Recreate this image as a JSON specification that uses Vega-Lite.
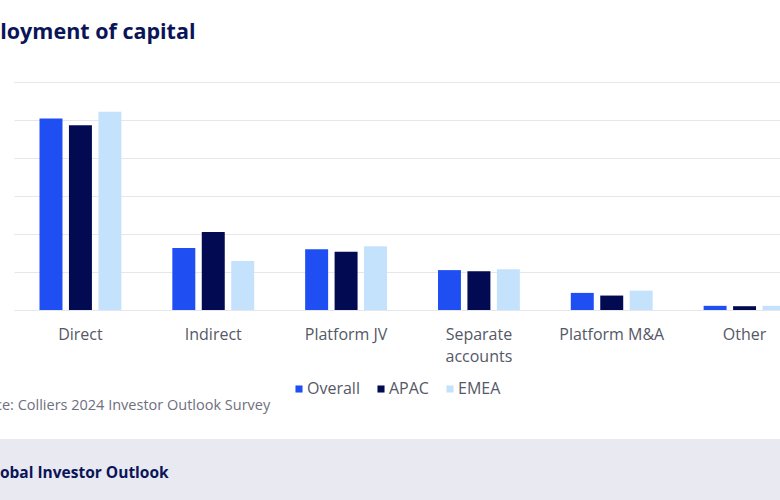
{
  "$schema": "https://vega.github.io/schema/vega-lite/v6.json",
  "width": 780,
  "height": 228,
  "autosize": {"type": "none"},
  "padding": {"left": 0, "right": 0, "top": 82, "bottom": 190},
  "background": "#ffffff",
  "config": {
    "view": {"stroke": null},
    "font": "Open Sans"
  },
  "title": {
    "text": "Global Investor Outlook",
    "orient": "bottom",
    "anchor": "start",
    "frame": "group",
    "dx": -16,
    "offset": -34,
    "fontSize": 15.5,
    "fontWeight": "bold",
    "color": "#0a1458",
    "font": "Open Sans",
    "zindex": 1
  },
  "data": {
    "values": [
      {"cat": "Direct", "region": "Overall", "value": 50.4},
      {"cat": "Direct", "region": "APAC", "value": 48.6},
      {"cat": "Direct", "region": "EMEA", "value": 52.2},
      {"cat": "Indirect", "region": "Overall", "value": 16.3},
      {"cat": "Indirect", "region": "APAC", "value": 20.5},
      {"cat": "Indirect", "region": "EMEA", "value": 12.9},
      {"cat": "Platform JV", "region": "Overall", "value": 16.0},
      {"cat": "Platform JV", "region": "APAC", "value": 15.3},
      {"cat": "Platform JV", "region": "EMEA", "value": 16.8},
      {"cat": "Separate accounts", "region": "Overall", "value": 10.5},
      {"cat": "Separate accounts", "region": "APAC", "value": 10.2},
      {"cat": "Separate accounts", "region": "EMEA", "value": 10.7},
      {"cat": "Platform M&A", "region": "Overall", "value": 4.5},
      {"cat": "Platform M&A", "region": "APAC", "value": 3.8},
      {"cat": "Platform M&A", "region": "EMEA", "value": 5.1},
      {"cat": "Other", "region": "Overall", "value": 1.1},
      {"cat": "Other", "region": "APAC", "value": 1.0},
      {"cat": "Other", "region": "EMEA", "value": 1.1}
    ]
  },
  "layer": [
    {
      "mark": {"type": "rect", "color": "#e8e9f1"},
      "encoding": {
        "y": {
          "datum": -34,
          "type": "quantitative",
          "scale": {"domain": [0, 60], "nice": false},
          "axis": {
            "values": [0, 10, 20, 30, 40, 50, 60],
            "labels": false,
            "ticks": false,
            "domain": false,
            "grid": true,
            "gridColor": "#e6e7ec",
            "gridWidth": 1,
            "title": "Deployment of capital",
            "titleAngle": 0,
            "titleX": -42.5,
            "titleY": -44,
            "titleAlign": "left",
            "titleBaseline": "alphabetic",
            "titleFontSize": 21.5,
            "titleFontWeight": "bold",
            "titleColor": "#0a1458",
            "titleFont": "Open Sans"
          }
        },
        "y2": {"datum": -50}
      }
    },
    {
      "mark": {"type": "bar"},
      "encoding": {
        "x": {
          "field": "cat",
          "type": "nominal",
          "sort": ["Direct", "Indirect", "Platform JV", "Separate accounts", "Platform M&A", "Other"],
          "scale": {"range": [14, 811], "paddingInner": 0.3835, "paddingOuter": 0.192},
          "axis": {
            "domain": false,
            "ticks": false,
            "labelAngle": 0,
            "labelPadding": 16,
            "labelFontSize": 16,
            "labelColor": "#555866",
            "labelFont": "Open Sans",
            "labelLineHeight": 22,
            "labelExpr": "datum.label == 'Separate accounts' ? ['Separate', 'accounts'] : datum.label",
            "title": "Source: Colliers 2024 Investor Outlook Survey",
            "titleX": -37,
            "titleY": 99,
            "titleAlign": "left",
            "titleAnchor": "start",
            "titleBaseline": "alphabetic",
            "titleFontSize": 14.5,
            "titleFontWeight": "normal",
            "titleColor": "#6e6f80",
            "titleFont": "Open Sans"
          }
        },
        "xOffset": {
          "field": "region",
          "type": "nominal",
          "sort": ["Overall", "APAC", "EMEA"],
          "scale": {"paddingInner": 0.22, "paddingOuter": 0}
        },
        "y": {
          "field": "value",
          "type": "quantitative",
          "scale": {"domain": [0, 60], "nice": false},
          "axis": {
            "values": [0, 10, 20, 30, 40, 50, 60],
            "labels": false,
            "ticks": false,
            "domain": false,
            "grid": true,
            "gridColor": "#e6e7ec",
            "gridWidth": 1,
            "title": "Deployment of capital",
            "titleAngle": 0,
            "titleX": -42.5,
            "titleY": -44,
            "titleAlign": "left",
            "titleBaseline": "alphabetic",
            "titleFontSize": 21.5,
            "titleFontWeight": "bold",
            "titleColor": "#0a1458",
            "titleFont": "Open Sans"
          }
        },
        "color": {
          "field": "region",
          "type": "nominal",
          "sort": ["Overall", "APAC", "EMEA"],
          "scale": {"domain": ["Overall", "APAC", "EMEA"], "range": ["#1f4ff2", "#020b52", "#c4e2fb"]},
          "legend": {
            "title": null,
            "orient": "none",
            "direction": "horizontal",
            "legendX": 291,
            "legendY": 299,
            "symbolType": "square",
            "symbolSize": 50,
            "symbolStrokeWidth": 0,
            "labelFontSize": 16,
            "labelColor": "#555866",
            "labelFont": "Open Sans",
            "labelOffset": 0,
            "columnPadding": 13
          }
        }
      }
    }
  ]
}
